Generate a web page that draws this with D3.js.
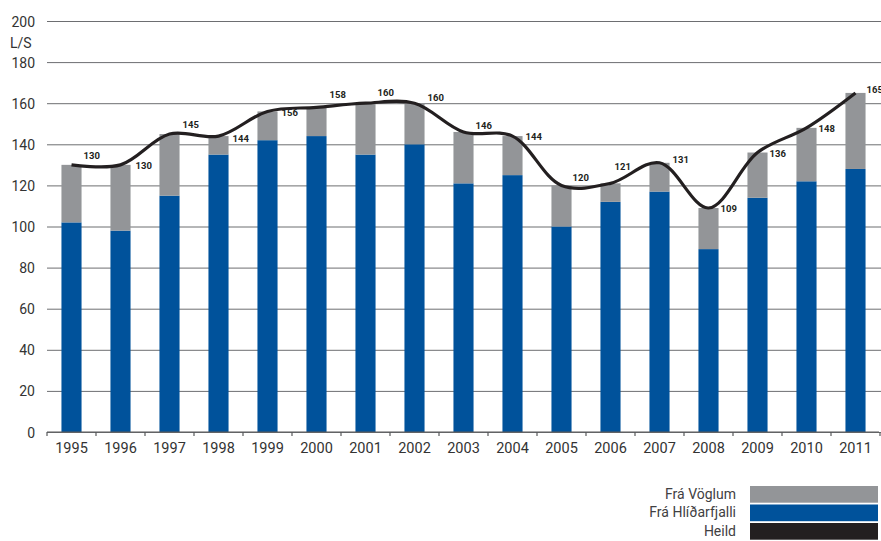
<!DOCTYPE html>
<html>
<head>
<meta charset="utf-8">
<script src="https://cdn.jsdelivr.net/npm/d3@7"></script>
<style>
  body { margin: 0; background: #fff; }
  svg text { font-family: Roboto, "Liberation Sans", sans-serif; }
</style>
</head>
<body>
<div id="chart"></div>
<script>
// data
var years = ["1995","1996","1997","1998","1999","2000","2001","2002","2003","2004","2005","2006","2007","2008","2009","2010","2011"];
var hlidarfjall = [102, 98, 115, 135, 142, 144, 135, 140, 121, 125, 100, 112, 117, 89, 114, 122, 128];
var heild = [130, 130, 145, 144, 156, 158, 160, 160, 146, 144, 120, 121, 131, 109, 136, 148, 165];
var yTicks = [0, 20, 40, 60, 80, 100, 120, 140, 160, 180, 200];
var legendLabels = ["Frá Vöglum", "Frá Hlíðarfjalli", "Heild"];

// label nudges [dx from bar edge, dy from bar top]
var labelNudge = [[2,-6],[5,4],[3,-6],[4,6],[4,5],[3,-9],[2,-7],[3,-2],[2,-3],[3,4],[1,-4],[-6,-13],[3,0],[2,4],[2,4],[2,4],[1,0]];

var colGrey = "#939598", colBlue = "#00529b", colBlack = "#231f20";

var svgWidth = 881, svgHeight = 541;
var svg = d3.select("#chart").append("svg")
    .attr("width", svgWidth)
    .attr("height", svgHeight);

var xScale = d3.scaleBand()
    .domain(years)
    .range([47, 880])
    .paddingInner(0.59)
    .paddingOuter(0.295);

var yScale = d3.scaleLinear()
    .domain([0, 200])
    .range([432, 21]);

// gridlines + y labels
var leftAxis = d3.axisLeft(yScale)
    .tickValues(yTicks)
    .tickSize(-(881 - 47))
    .tickPadding(12);

var gy = svg.append("g")
    .attr("transform", "translate(47,0)")
    .call(leftAxis);
gy.select(".domain").remove();
gy.selectAll(".tick line")
    .attr("stroke", "#6d6e71")
    .attr("stroke-width", 1);
gy.selectAll(".tick text")
    .attr("font-size", "14px")
    .attr("fill", "#333")
    .attr("x", -12)
    .attr("dy", "0.36em");

// unit label
svg.append("text")
    .attr("x", 10)
    .attr("y", 48)
    .attr("font-size", "14px")
    .attr("fill", "#333")
    .text("L/S");

// stacked bars
var vaglar = heild.map((d, i) => d - hlidarfjall[i]);

svg.append("g").selectAll("rect")
    .data(years)
    .enter()
    .append("rect")
    .attr("x", d => xScale(d))
    .attr("width", xScale.bandwidth())
    .attr("y", (d, i) => yScale(hlidarfjall[i]))
    .attr("height", (d, i) => yScale(0) - yScale(hlidarfjall[i]))
    .attr("fill", colBlue);

svg.append("g").selectAll("rect")
    .data(years)
    .enter()
    .append("rect")
    .attr("x", d => xScale(d))
    .attr("width", xScale.bandwidth())
    .attr("y", (d, i) => yScale(heild[i]))
    .attr("height", (d, i) => yScale(0) - yScale(vaglar[i]) )
    .attr("fill", colGrey);

// x axis with ticks between categories
var gx = svg.append("g")
    .attr("transform", "translate(0,432)");
gx.append("line")
    .attr("x1", 47).attr("x2", 879)
    .attr("stroke", "#58595b")
    .attr("stroke-width", 1.2);
var boundaries = years.map(d => xScale(d) - xScale.step() * 0.295).concat([880]);
gx.selectAll(".sep")
    .data(boundaries)
    .enter()
    .append("line")
    .attr("x1", d => d).attr("x2", d => d)
    .attr("y1", 0).attr("y2", 4)
    .attr("stroke", "#58595b")
    .attr("stroke-width", 1.2);
gx.selectAll(".yr")
    .data(years)
    .enter()
    .append("text")
    .attr("x", d => xScale(d) + xScale.bandwidth() / 2)
    .attr("y", 21)
    .attr("text-anchor", "middle")
    .attr("font-size", "14.5px")
    .attr("fill", "#333")
    .text(d => d);

// total line
var line = d3.line()
    .x((d, i) => xScale(years[i]) + xScale.bandwidth() / 2)
    .y(d => yScale(d))
    .curve(d3.curveCatmullRom.alpha(0.5));

svg.append("path")
    .datum(heild)
    .attr("d", line)
    .attr("fill", "none")
    .attr("stroke", colBlack)
    .attr("stroke-width", 3.2);

// value labels
svg.append("g").selectAll("text")
    .data(heild)
    .enter()
    .append("text")
    .attr("x", (d, i) => xScale(years[i]) + xScale.bandwidth() + labelNudge[i][0])
    .attr("y", (d, i) => yScale(d) + labelNudge[i][1])
    .attr("font-family", "'Liberation Sans', Arial, sans-serif")
    .attr("font-size", "9.5px")
    .attr("font-weight", "bold")
    .attr("fill", colBlack)
    .text(d => d);

// legend
var legendColors = [colGrey, colBlue, colBlack];
var legend = svg.append("g").selectAll("g")
    .data(legendLabels)
    .enter()
    .append("g")
    .attr("transform", (d, i) => `translate(0, ${486 + i * 18.5})`);
legend.append("rect")
    .attr("x", 750)
    .attr("width", 128)
    .attr("height", 16.7)
    .attr("fill", (d, i) => legendColors[i]);
legend.append("text")
    .attr("x", 736)
    .attr("y", 12.5)
    .attr("text-anchor", "end")
    .attr("font-size", "14px")
    .attr("fill", "#414042")
    .text(d => d);
</script>
</body>
</html>
